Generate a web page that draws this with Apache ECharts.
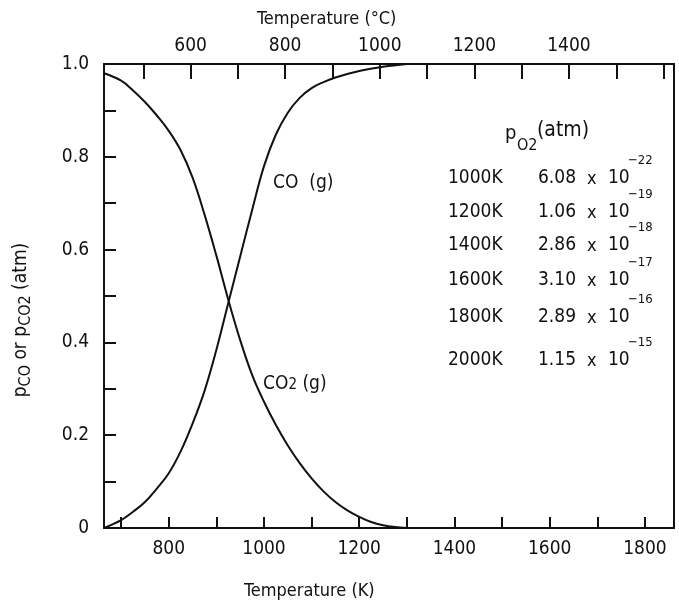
<!DOCTYPE html>
<html>
<head>
<meta charset="utf-8">
<script src="https://cdn.jsdelivr.net/npm/echarts@6/dist/echarts.min.js"></script>
<style>
  html, body { margin: 0; padding: 0; background: #fff; }
  #main { width: 679px; height: 607px; }
</style>
</head>
<body>
<div id="main"></div>
<script>
// temperature (K) and partial pressures
var coTemp  = [664, 700, 725, 750, 775, 800, 825, 850, 875, 900, 925, 950, 975, 1000, 1025, 1050, 1075, 1100, 1125, 1150, 1200, 1250, 1300];
var coVals  = [0, 0.017, 0.035, 0.056, 0.085, 0.118, 0.165, 0.225, 0.295, 0.384, 0.485, 0.585, 0.685, 0.78, 0.848, 0.895, 0.927, 0.948, 0.961, 0.971, 0.985, 0.994, 1.0];
var co2Temp = [664, 700, 725, 750, 775, 800, 825, 850, 875, 900, 925, 950, 975, 1000, 1025, 1050, 1075, 1100, 1125, 1150, 1175, 1200, 1225, 1250, 1275, 1300];
var co2Vals = [0.98, 0.964, 0.943, 0.918, 0.889, 0.856, 0.814, 0.755, 0.676, 0.587, 0.492, 0.405, 0.33, 0.272, 0.222, 0.178, 0.14, 0.107, 0.079, 0.056, 0.038, 0.024, 0.013, 0.006, 0.002, 0];

// pO2 table
var tableTemps = ['1000K', '1200K', '1400K', '1600K', '1800K', '2000K'];
var tableMant  = ['6.08', '1.06', '2.86', '3.10', '2.89', '1.15'];
var tableExp   = ['−22', '−19', '−18', '−17', '−16', '−15'];

var FONT = '"DejaVu Sans Condensed", "DejaVu Sans", sans-serif';
var INK = '#111';

function pairs(xs, ys) {
  return xs.map(function (x, i) { return [x, ys[i]]; });
}

var myChart = echarts.init(document.getElementById('main'));

// table rows
var rowY = [178, 212, 245, 280, 317, 360];
var graphics = [];
tableTemps.forEach(function (t, i) {
  var y = rowY[i];
  graphics.push({ type: 'text', x: 448, y: y, style: { text: t, font: '19px ' + FONT, fill: INK, verticalAlign: 'middle' } });
  graphics.push({ type: 'text', x: 538, y: y, style: { text: tableMant[i], font: '19px ' + FONT, fill: INK, verticalAlign: 'middle' } });
  graphics.push({ type: 'text', x: 587, y: y + 1, style: { text: 'x', font: '18px ' + FONT, fill: INK, verticalAlign: 'middle' } });
  graphics.push({ type: 'text', x: 608, y: y, style: { text: '10', font: '19px ' + FONT, fill: INK, verticalAlign: 'middle' } });
  graphics.push({ type: 'text', x: 628, y: y - 17, style: { text: tableExp[i], font: '13px ' + FONT, fill: INK, verticalAlign: 'middle' } });
});
// table title p_O2 (atm)
graphics.push({ type: 'text', x: 505, y: 134, style: { text: 'p', font: '20px ' + FONT, fill: INK, verticalAlign: 'middle' } });
graphics.push({ type: 'text', x: 517, y: 146, style: { text: 'O2', font: '16px ' + FONT, fill: INK, verticalAlign: 'middle' } });
graphics.push({ type: 'text', x: 537, y: 131, style: { text: '(atm)', font: '21px ' + FONT, fill: INK, verticalAlign: 'middle' } });
// curve labels
graphics.push({ type: 'text', x: 273, y: 183, style: { text: 'CO  (g)', font: '19px ' + FONT, fill: INK, verticalAlign: 'middle' } });
graphics.push({ type: 'text', x: 263, y: 384, style: { text: 'CO{s|2} (g)', font: '19px ' + FONT, fill: INK, verticalAlign: 'middle',
  rich: { s: { font: '15px ' + FONT, fill: INK, padding: [3, 0, 0, 0] } } } });
// axis titles
graphics.push({ type: 'text', x: 244, y: 591, style: { text: 'Temperature (K)', font: '18px ' + FONT, fill: INK, verticalAlign: 'middle' } });
graphics.push({ type: 'text', x: 257, y: 19, style: { text: 'Temperature (°C)', font: '18px ' + FONT, fill: INK, verticalAlign: 'middle' } });
graphics.push({
  type: 'text', x: 23, y: 320, rotation: Math.PI / 2,
  style: {
    text: '{n|p}{s|CO}{n| or }{n|p}{s|CO2}{n| (atm)}',
    align: 'center', verticalAlign: 'middle', fill: INK, font: '19px ' + FONT,
    rich: {
      n: { font: '19px ' + FONT, fill: INK, lineHeight: 22, verticalAlign: 'top' },
      s: { font: '16px ' + FONT, fill: INK, lineHeight: 18, padding: [8, 0, 0, 0], verticalAlign: 'bottom' }
    }
  }
});

var labelStyle = { color: INK, fontSize: 19, fontFamily: FONT };

var option = {
  animation: false,
  backgroundColor: '#fff',
  grid: { left: 104, right: 5, top: 64, bottom: 79, show: true, borderColor: INK, borderWidth: 2 },
  xAxis: [
    {
      type: 'value', position: 'bottom', min: 664, max: 1861,
      minInterval: 100, maxInterval: 100,
      axisLine: { show: true, lineStyle: { color: INK, width: 2 } },
      axisTick: { show: true, inside: true, length: 11, lineStyle: { color: INK, width: 2 } },
      axisLabel: Object.assign({ margin: 12, showMinLabel: false, showMaxLabel: false,
        formatter: function (v) { return v % 200 === 0 ? String(v) : ''; } }, labelStyle),
      splitLine: { show: false }
    },
    {
      type: 'value', position: 'top', min: 417, max: 1622,
      minInterval: 100, maxInterval: 100,
      axisLine: { show: true, lineStyle: { color: INK, width: 2 } },
      axisTick: { show: true, inside: true, length: 15, lineStyle: { color: INK, width: 2 } },
      axisLabel: Object.assign({ margin: 8, showMinLabel: false, showMaxLabel: false,
        formatter: function (v) { return (v % 200 === 0 && v <= 1400) ? String(v) : ''; } }, labelStyle),
      splitLine: { show: false }
    }
  ],
  yAxis: {
    type: 'value', min: 0, max: 1, interval: 0.1,
    axisLine: { show: true, lineStyle: { color: INK, width: 2 } },
    axisTick: { show: true, inside: true, length: 12, lineStyle: { color: INK, width: 2 } },
    axisLabel: Object.assign({ margin: 15,
      formatter: function (v) {
        var r = Math.round(v * 10);
        if (r % 2) return '';
        return r === 0 ? '0' : (r / 10).toFixed(1);
      } }, labelStyle),
    splitLine: { show: false }
  },
  series: [
    {
      name: 'CO (g)', type: 'line', xAxisIndex: 0, smooth: 0.4, showSymbol: false,
      lineStyle: { color: INK, width: 2 },
      data: pairs(coTemp, coVals)
    },
    {
      name: 'CO2 (g)', type: 'line', xAxisIndex: 0, smooth: 0.4, showSymbol: false,
      lineStyle: { color: INK, width: 2 },
      data: pairs(co2Temp, co2Vals)
    }
  ],
  graphic: graphics
};

myChart.setOption(option);
</script>
</body>
</html>
